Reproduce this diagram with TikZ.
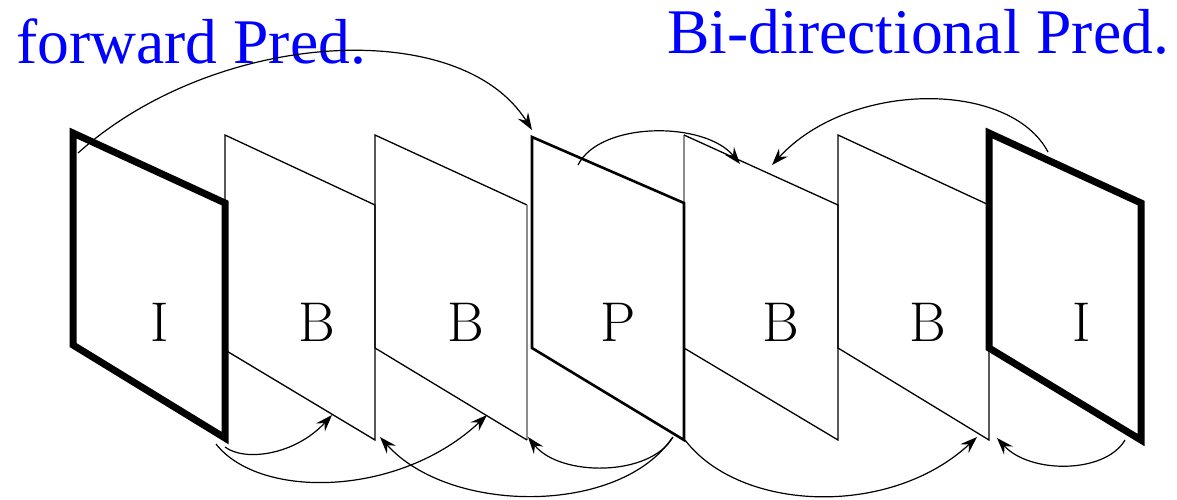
\documentclass[tikz,border=0pt]{standalone}
\usepackage{fontspec}
\newfontfamily\bluefont{Liberation Serif}
\usetikzlibrary{arrows.meta}
\begin{document}
\begin{tikzpicture}[x=0.5pt,y=-0.5pt,
  iframe/.style={line width=3.5pt,line join=miter},
  pframe/.style={line width=1.3pt},
  bframe/.style={line width=0.65pt},
  greyedge/.style={line width=0.65pt,black!45},
  pred/.style={line width=0.6pt,-{Stealth[length=8.5pt,width=6pt,inset=3pt]}},
  lbl/.style={anchor=base,inner sep=0pt,font=\fontsize{28}{32}\selectfont},
  title/.style={anchor=base west,inner sep=0pt,text=blue,font=\bluefont\fontsize{31.8}{36}\selectfont}]
\useasboundingbox (0,0) rectangle (1177,499);

% B frames
\draw[bframe] (225,135) -- (375,205) -- (375,440) -- (225,350) -- cycle;
\draw[bframe] (375,348) -- (375,135) -- (527,205);
\draw[greyedge] (527,205) -- (527,440);
\draw[bframe] (527,440) -- (375,348);
\draw[greyedge] (684,203) -- (684,135);
\draw[bframe] (684,135) -- (838,205) -- (838,440) -- (684,348);
\draw[bframe] (838,135) -- (989,205) -- (989,440) -- (838,348) -- cycle;
% P frame
\draw[pframe] (532,137) -- (684,203) -- (684,440) -- (532,348) -- cycle;
% I frames
\draw[iframe] (73,133) -- (225,203) -- (225,438) -- (73,345) -- cycle;
\draw[iframe] (989,133) -- (1141,203) -- (1141,440) -- (989,348) -- cycle;

% labels
\node[lbl] (l1) at (160,341) {I};
\node[lbl] (l2) at (317,341) {B};
\node[lbl] (l3) at (466,341) {B};
\node[lbl] (l4) at (618,341) {P};
\node[lbl] (l5) at (781,341) {B};
\node[lbl] (l6) at (928,341) {B};
\node[lbl] (l7) at (1082,341) {I};

% titles
\node[title] (fwd) at (16,63) {forward Pred.};
\node[title] (bidir) at (667,53) {Bi-directional Pred.};

% connector end points
\coordinate (iAtop) at (78,153);
\coordinate (pTL) at (532,130);
\coordinate (pTop) at (578,165);
\coordinate (bEtopA) at (740,164);
\coordinate (iBtop) at (1048,152);
\coordinate (bEtopB) at (772,165);
\coordinate (iAbr) at (225,447);
\coordinate (iAbr2) at (216,444);
\coordinate (bBbot) at (332,415);
\coordinate (bCbot) at (487,415);
\coordinate (pBr) at (672,438);
\coordinate (pBr2) at (673,437);
\coordinate (pBr3) at (685,440);
\coordinate (bBcorner) at (380,437);
\coordinate (bCcorner) at (528,437);
\coordinate (bFcornerA) at (977,437);
\coordinate (iBbr) at (1125,440);
\coordinate (bFcornerB) at (997,438);

% top arcs
\draw[pred] (iAtop) .. controls (215,30) and (460,15) .. (pTL);
\draw[pred] (pTop) .. controls (600,121) and (705,121) .. (bEtopA);
\draw[pred] (iBtop) .. controls (1010,80) and (850,80) .. (bEtopB);
% bottom arcs
\draw[pred] (iAbr) .. controls (245,462) and (295,455) .. (bBbot);
\draw[pred] (iAbr2) .. controls (260,500) and (400,497) .. (bCbot);
\draw[pred] (pBr) .. controls (620,515) and (450,515) .. (bBcorner);
\draw[pred] (pBr2) .. controls (650,477) and (560,477) .. (bCcorner);
\draw[pred] (pBr3) .. controls (740,512) and (890,518) .. (bFcornerA);
\draw[pred] (iBbr) .. controls (1105,474) and (1030,474) .. (bFcornerB);
\end{tikzpicture}
\end{document}
